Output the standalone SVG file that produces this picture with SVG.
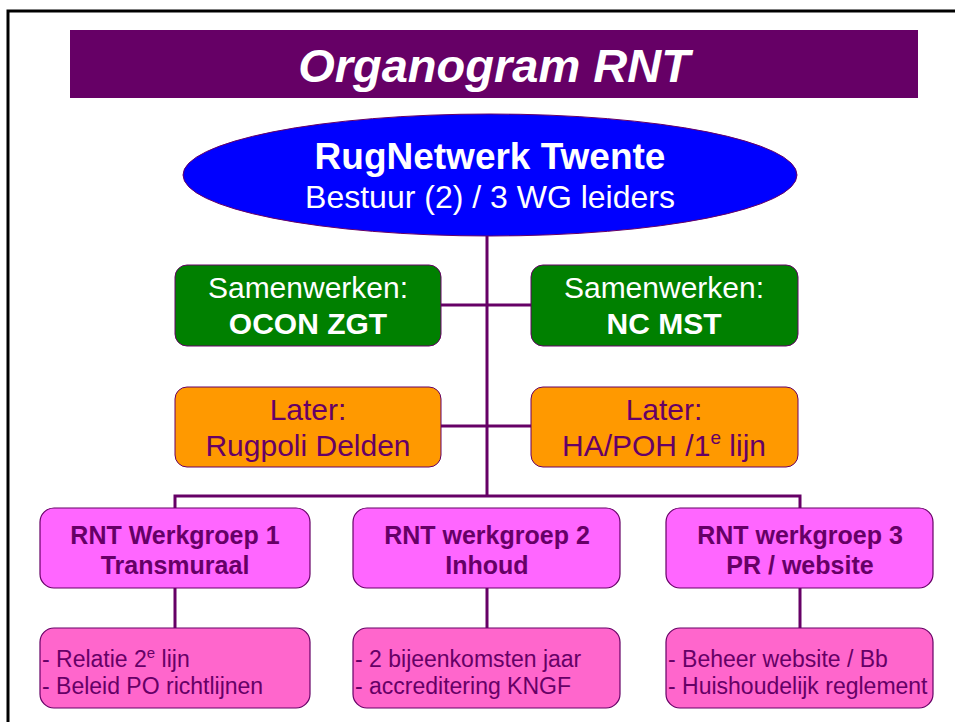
<svg xmlns="http://www.w3.org/2000/svg" width="955" height="722" viewBox="0 0 955 722">
<style>
text{font-family:"Liberation Sans",Arial,sans-serif;text-anchor:middle}
.conn{stroke:#660066;stroke-width:3;fill:none}
.g{fill:#008000;stroke:#660066;stroke-width:1}
.o{fill:#FF9900;stroke:#660066;stroke-width:1}
.p{fill:#FF66FF;stroke:#660066;stroke-width:1.2}
.q{fill:#FF66CC;stroke:#660066;stroke-width:1.2}
.wt{fill:#fff;font-size:30px}
.pt{fill:#660066;font-size:30px}
.pb{fill:#660066;font-size:25px;font-weight:bold}
.ls{fill:#660066;font-size:23px;text-anchor:start}
</style>
<rect x="0" y="0" width="955" height="722" fill="#fff"/>
<path d="M8 722 V11 H955" stroke="#000" stroke-width="3" fill="none"/>
<g id="title">
<rect x="70" y="30" width="848" height="68" fill="#660066"/>
<text x="494" y="82" fill="#fff" font-size="47" font-weight="bold" font-style="italic">Organogram RNT</text>
</g>
<g id="connectors">
<path class="conn" d="M487 236 V496 M441 305 H531 M441 426 H531 M175 508 V496 H800 V508 M175 588 V628 M487 588 V628 M800 588 V628"/>
</g>
<g id="rnt">
<ellipse cx="490" cy="175" rx="307" ry="61" fill="#0000FF" stroke="#660066" stroke-width="1"/>
<text x="490" y="169" fill="#fff" font-size="37" font-weight="bold">RugNetwerk Twente</text>
<text x="490" y="208" fill="#fff" font-size="32">Bestuur (2) / 3 WG leiders</text>
</g>
<g id="ocon">
<rect class="g" x="175" y="265" width="266" height="81" rx="12"/>
<text class="wt" x="308" y="298">Samenwerken:</text>
<text class="wt" x="308" y="334" font-weight="bold">OCON ZGT</text>
</g>
<g id="ncmst">
<rect class="g" x="531" y="265" width="267" height="81" rx="12"/>
<text class="wt" x="664" y="298">Samenwerken:</text>
<text class="wt" x="664" y="334" font-weight="bold">NC MST</text>
</g>
<g id="rugpoli">
<rect class="o" x="175" y="387" width="266" height="80" rx="12"/>
<text class="pt" x="308" y="420">Later:</text>
<text class="pt" x="308" y="456">Rugpoli Delden</text>
</g>
<g id="ha">
<rect class="o" x="531" y="387" width="267" height="80" rx="12"/>
<text class="pt" x="664" y="420">Later:</text>
<text class="pt" x="664" y="456">HA/POH /1<tspan font-size="19" dy="-12">e</tspan><tspan dy="12"> lijn</tspan></text>
</g>
<g id="wg1">
<rect class="p" x="40" y="508" width="270" height="80" rx="14"/>
<text class="pb" x="175" y="544">RNT Werkgroep 1</text>
<text class="pb" x="175" y="574">Transmuraal</text>
</g>
<g id="wg2">
<rect class="p" x="353" y="508" width="267" height="80" rx="14"/>
<text class="pb" x="487" y="544">RNT werkgroep 2</text>
<text class="pb" x="487" y="574">Inhoud</text>
</g>
<g id="wg3">
<rect class="p" x="666" y="508" width="267" height="80" rx="14"/>
<text class="pb" x="800" y="544">RNT werkgroep 3</text>
<text class="pb" x="800" y="574">PR / website</text>
</g>
<g id="wg1tasks">
<rect class="q" x="40" y="628" width="270" height="80" rx="14"/>
<text class="ls" x="42" y="667">- Relatie 2<tspan font-size="15" dy="-9">e</tspan><tspan dy="9"> lijn</tspan></text>
<text class="ls" x="42" y="694">- Beleid PO richtlijnen</text>
</g>
<g id="wg2tasks">
<rect class="q" x="353" y="628" width="267" height="80" rx="14"/>
<text class="ls" x="355" y="667">- 2 bijeenkomsten jaar</text>
<text class="ls" x="355" y="694">- accreditering KNGF</text>
</g>
<g id="wg3tasks">
<rect class="q" x="666" y="628" width="267" height="80" rx="14"/>
<text class="ls" x="668" y="667">- Beheer website / Bb</text>
<text class="ls" x="668" y="694">- Huishoudelijk reglement</text>
</g>
</svg>
